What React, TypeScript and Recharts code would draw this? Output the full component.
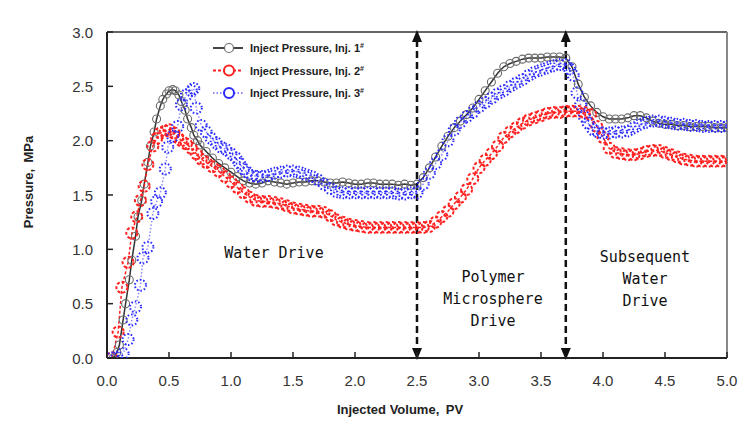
import React from 'react';
import { LineChart, Line, XAxis, YAxis, ReferenceLine } from 'recharts';

const xTicks = [0, 0.5, 1, 1.5, 2, 2.5, 3, 3.5, 4, 4.5, 5];
const yTicks = [0, 0.5, 1, 1.5, 2, 2.5, 3];
const phaseBounds = [2.5, 3.7];

const seriesNames = ['Inject Pressure, Inj. 1', 'Inject Pressure, Inj. 2', 'Inject Pressure, Inj. 3'];

const inj1: [number, number][] = [
  [0.05, 0], [0.08, 0.05], [0.1, 0.12], [0.13, 0.35], [0.15, 0.5], [0.18, 0.72], [0.2, 0.9], [0.23, 1.12], [0.25, 1.3],
  [0.28, 1.45], [0.3, 1.6], [0.33, 1.8], [0.35, 1.95], [0.38, 2.08], [0.4, 2.2], [0.43, 2.32], [0.45, 2.38], [0.48, 2.43],
  [0.5, 2.46], [0.53, 2.47], [0.55, 2.46], [0.58, 2.42], [0.6, 2.36], [0.63, 2.28], [0.65, 2.2], [0.68, 2.12], [0.7, 2.05],
  [0.73, 2.0], [0.75, 1.96], [0.8, 1.9], [0.85, 1.84], [0.9, 1.79], [0.95, 1.75], [1.0, 1.71], [1.05, 1.67], [1.1, 1.63],
  [1.15, 1.61], [1.2, 1.6], [1.25, 1.61], [1.3, 1.63], [1.35, 1.62], [1.4, 1.61], [1.45, 1.6], [1.5, 1.61], [1.55, 1.62],
  [1.6, 1.62], [1.65, 1.63], [1.7, 1.63], [1.75, 1.62], [1.8, 1.61], [1.85, 1.61], [1.9, 1.62], [1.95, 1.61], [2.0, 1.6],
  [2.05, 1.6], [2.1, 1.61], [2.15, 1.61], [2.2, 1.6], [2.25, 1.6], [2.3, 1.6], [2.35, 1.59], [2.4, 1.6], [2.45, 1.59],
  [2.5, 1.6], [2.55, 1.66], [2.6, 1.75], [2.65, 1.85], [2.7, 1.95], [2.75, 2.04], [2.8, 2.12], [2.85, 2.18], [2.9, 2.24],
  [2.95, 2.3], [3.0, 2.38], [3.05, 2.46], [3.1, 2.54], [3.15, 2.62], [3.2, 2.68], [3.25, 2.71], [3.3, 2.73], [3.35, 2.75],
  [3.4, 2.76], [3.45, 2.76], [3.5, 2.76], [3.55, 2.77], [3.6, 2.77], [3.65, 2.77], [3.7, 2.76], [3.75, 2.68], [3.8, 2.52],
  [3.85, 2.4], [3.9, 2.32], [3.95, 2.26], [4.0, 2.22], [4.05, 2.2], [4.1, 2.2], [4.15, 2.2], [4.2, 2.21], [4.25, 2.23],
  [4.3, 2.23], [4.35, 2.21], [4.4, 2.18], [4.45, 2.16], [4.5, 2.15], [4.55, 2.15], [4.6, 2.14], [4.65, 2.14], [4.7, 2.13],
  [4.75, 2.13], [4.8, 2.13], [4.85, 2.13], [4.9, 2.12], [4.95, 2.12], [5.0, 2.12],
];

const inj2: [number, number][] = [
  [0.04, 0], [0.09, 0.24], [0.12, 0.65], [0.17, 0.88], [0.2, 1.15], [0.24, 1.3], [0.27, 1.45], [0.3, 1.58], [0.33, 1.78],
  [0.37, 1.95], [0.4, 2.02], [0.43, 2.07], [0.47, 2.09], [0.5, 2.1], [0.54, 2.07], [0.57, 2.03], [0.6, 2.0], [0.64, 1.97],
  [0.68, 1.93], [0.72, 1.88], [0.76, 1.83], [0.8, 1.8], [0.85, 1.76], [0.9, 1.72], [0.95, 1.67], [1.0, 1.62], [1.05, 1.57],
  [1.1, 1.52], [1.15, 1.48], [1.2, 1.45], [1.25, 1.44], [1.3, 1.44], [1.35, 1.43], [1.4, 1.42], [1.45, 1.4], [1.5, 1.38],
  [1.55, 1.37], [1.6, 1.36], [1.65, 1.35], [1.7, 1.35], [1.75, 1.34], [1.8, 1.31], [1.85, 1.27], [1.9, 1.25], [1.95, 1.23],
  [2.0, 1.22], [2.05, 1.21], [2.1, 1.2], [2.15, 1.2], [2.2, 1.2], [2.25, 1.2], [2.3, 1.2], [2.35, 1.2], [2.4, 1.2],
  [2.45, 1.2], [2.5, 1.2], [2.55, 1.2], [2.6, 1.21], [2.65, 1.25], [2.7, 1.3], [2.75, 1.35], [2.8, 1.42], [2.85, 1.48],
  [2.9, 1.55], [2.95, 1.65], [3.0, 1.75], [3.05, 1.82], [3.1, 1.88], [3.15, 1.95], [3.2, 2.03], [3.25, 2.08], [3.3, 2.12],
  [3.35, 2.16], [3.4, 2.19], [3.45, 2.21], [3.5, 2.23], [3.55, 2.25], [3.6, 2.26], [3.65, 2.26], [3.7, 2.27], [3.75, 2.27],
  [3.8, 2.27], [3.85, 2.26], [3.9, 2.24], [3.95, 2.13], [4.0, 2.03], [4.05, 1.93], [4.1, 1.89], [4.15, 1.88], [4.2, 1.87],
  [4.25, 1.87], [4.3, 1.88], [4.35, 1.9], [4.4, 1.91], [4.45, 1.91], [4.5, 1.89], [4.55, 1.87], [4.6, 1.85], [4.65, 1.83],
  [4.7, 1.82], [4.75, 1.81], [4.8, 1.81], [4.85, 1.81], [4.9, 1.81], [4.95, 1.81], [5.0, 1.81],
];

const inj3: [number, number][] = [
  [0.04, 0], [0.08, 0.01], [0.13, 0.04], [0.17, 0.17], [0.2, 0.35], [0.23, 0.47], [0.27, 0.67], [0.29, 0.92], [0.33, 1.02],
  [0.37, 1.33], [0.4, 1.44], [0.43, 1.52], [0.47, 1.74], [0.49, 1.94], [0.53, 2.04], [0.57, 2.13], [0.6, 2.33], [0.64, 2.42],
  [0.68, 2.46], [0.7, 2.48], [0.72, 2.3], [0.76, 2.14], [0.8, 2.08], [0.84, 2.02], [0.88, 1.98], [0.92, 1.94], [0.96, 1.92],
  [1.0, 1.88], [1.04, 1.84], [1.07, 1.79], [1.1, 1.74], [1.13, 1.71], [1.17, 1.68], [1.21, 1.67], [1.25, 1.67], [1.3, 1.68],
  [1.35, 1.7], [1.4, 1.71], [1.45, 1.72], [1.5, 1.72], [1.55, 1.71], [1.6, 1.69], [1.65, 1.67], [1.7, 1.64], [1.75, 1.6],
  [1.8, 1.56], [1.85, 1.53], [1.9, 1.52], [1.95, 1.52], [2.0, 1.52], [2.05, 1.52], [2.1, 1.52], [2.15, 1.52], [2.2, 1.52],
  [2.25, 1.52], [2.3, 1.52], [2.35, 1.51], [2.4, 1.51], [2.45, 1.52], [2.5, 1.52], [2.55, 1.6], [2.6, 1.7], [2.65, 1.79],
  [2.7, 1.87], [2.75, 2.0], [2.8, 2.1], [2.85, 2.17], [2.9, 2.22], [2.95, 2.26], [3.0, 2.31], [3.05, 2.35], [3.1, 2.39],
  [3.15, 2.43], [3.2, 2.46], [3.25, 2.5], [3.3, 2.53], [3.35, 2.56], [3.4, 2.6], [3.45, 2.63], [3.5, 2.65], [3.55, 2.67],
  [3.6, 2.69], [3.65, 2.7], [3.7, 2.7], [3.73, 2.66], [3.76, 2.6], [3.79, 2.44], [3.82, 2.33], [3.85, 2.22], [3.88, 2.16],
  [3.92, 2.1], [3.96, 2.08], [4.0, 2.07], [4.05, 2.07], [4.1, 2.08], [4.15, 2.08], [4.2, 2.09], [4.25, 2.12], [4.3, 2.15],
  [4.35, 2.17], [4.4, 2.18], [4.45, 2.18], [4.5, 2.17], [4.55, 2.16], [4.6, 2.15], [4.65, 2.15], [4.7, 2.14], [4.75, 2.14],
  [4.8, 2.13], [4.85, 2.13], [4.9, 2.13], [4.95, 2.13], [5.0, 2.13],
];

const toRows = (pts: [number, number][]) => pts.map(([x, y]) => ({ x, y }));

const W = 747;
const H = 429;
const FONT = '"Liberation Sans", Arial, sans-serif';
const MONO = '"DejaVu Sans Mono", "Liberation Mono", monospace';

const C1 = '#6b6b6b';
const C2 = '#ff2020';
const C3 = '#2a2aff';

const XTick = (props: any) => {
  const { x, y, payload } = props;
  return (
    <g>
      <line x1={x} x2={x} y1={y} y2={y - 6} stroke="#222" strokeWidth={1.5} />
      <text x={x} y={y + 28} textAnchor="middle" fontSize={15} fill="#333" fontFamily={FONT}>
        {Number(payload.value).toFixed(1)}
      </text>
    </g>
  );
};

const YTick = (props: any) => {
  const { x, y, payload } = props;
  return (
    <g>
      <line x1={x} x2={x + 6} y1={y} y2={y} stroke="#222" strokeWidth={1.5} />
      <text x={x - 14} y={y + 5.5} textAnchor="end" fontSize={15} fill="#333" fontFamily={FONT}>
        {Number(payload.value).toFixed(1)}
      </text>
    </g>
  );
};

const ArrowLine = (props: any) => {
  const { x1, y1, y2 } = props;
  const top = Math.min(y1, y2) - 2;
  const bot = Math.max(y1, y2) + 2;
  return (
    <g>
      <line x1={x1} x2={x1} y1={top + 10} y2={bot - 10} stroke="#111" strokeWidth={2.5} strokeDasharray="7 4" />
      <polygon points={`${x1},${top} ${x1 - 5},${top + 12} ${x1 + 5},${top + 12}`} fill="#111" />
      <polygon points={`${x1},${bot} ${x1 - 5},${bot - 12} ${x1 + 5},${bot - 12}`} fill="#111" />
    </g>
  );
};

const legendItems = [
  { name: seriesNames[0], color: C1, line: '#444', dash: undefined as string | undefined, r: 4.5, sw: 1.2 },
  { name: seriesNames[1], color: C2, line: C2, dash: '3 2', r: 5, sw: 2 },
  { name: seriesNames[2], color: C3, line: '#8a8aff', dash: '1.5 2', r: 5, sw: 2 },
];

export default function App() {
  return (
    <div style={{ position: 'absolute', left: 0, top: 0, width: W, height: H, background: '#fff' }}>
      <LineChart width={W} height={H} margin={{ top: 32, right: 20, bottom: 41, left: 47 }}>
        <XAxis
          dataKey="x"
          type="number"
          domain={[0, 5]}
          ticks={xTicks}
          height={30}
          tickSize={0}
          tickMargin={0}
          tick={<XTick />}
          axisLine={{ stroke: '#222', strokeWidth: 2 }}
          allowDataOverflow
        />
        <YAxis
          type="number"
          domain={[0, 3]}
          ticks={yTicks}
          width={60}
          tickSize={0}
          tickMargin={0}
          tick={<YTick />}
          axisLine={{ stroke: '#222', strokeWidth: 2 }}
          allowDataOverflow
        />
        <ReferenceLine y={3} stroke="#333" strokeWidth={1.5} />
        <ReferenceLine x={5} stroke="#888" strokeWidth={2} />
        <Line
          data={toRows(inj1)}
          dataKey="y"
          type="linear"
          stroke="#333"
          strokeWidth={1.5}
          dot={{ r: 4, stroke: C1, strokeWidth: 1.1, fill: 'none' }}
          isAnimationActive={false}
        />
        <Line
          data={toRows(inj2)}
          dataKey="y"
          type="linear"
          stroke={C2}
          strokeWidth={1.5}
          strokeDasharray="3 2"
          dot={{ r: 5.5, stroke: C2, strokeWidth: 2, fill: 'none' }}
          isAnimationActive={false}
        />
        <Line
          data={toRows(inj3)}
          dataKey="y"
          type="linear"
          stroke="#8a8aff"
          strokeWidth={1.5}
          strokeDasharray="1.5 2"
          dot={{ r: 5.5, stroke: C3, strokeWidth: 2, fill: 'none' }}
          isAnimationActive={false}
        />
        {phaseBounds.map((b) => (
          <ReferenceLine key={b} x={b} stroke="#111" shape={(p: any) => <ArrowLine {...p} />} />
        ))}
      </LineChart>
      <svg width={W} height={H} style={{ position: 'absolute', left: 0, top: 0, pointerEvents: 'none' }}>
        {legendItems.map((it, i) => {
          const cy = 48 + i * 22.5;
          return (
            <g key={it.name}>
              <line x1={213} x2={243} y1={cy} y2={cy} stroke={it.line} strokeWidth={2} strokeDasharray={it.dash} />
              <circle cx={229} cy={cy} r={it.r} stroke={it.color} strokeWidth={it.sw} fill="#fff" />
              <text x={250} y={cy + 4} fontSize={11} fontWeight="bold" fill="#222" fontFamily={FONT}>
                {it.name}
                <tspan fontSize={7} dy={-4}>#</tspan>
              </text>
            </g>
          );
        })}
        <text x={30} y={182} transform="rotate(-90 30 182)" textAnchor="middle" dominantBaseline="middle" fontSize={13} fontWeight="bold" fill="#222" fontFamily={FONT}>
          {'Pressure,\u2002MPa'}
        </text>
        <text x={400} y={414} textAnchor="middle" fontSize={13} fontWeight="bold" fill="#222" fontFamily={FONT}>
          {'Injected Volume,\u2002PV'}
        </text>
        <g fontFamily={MONO} fontSize={15} fill="#111" textAnchor="middle">
          <text x={274} y={258}>Water Drive</text>
          <text x={493} y={282}>Polymer</text>
          <text x={493} y={304}>Microsphere</text>
          <text x={493} y={326}>Drive</text>
          <text x={645} y={262}>Subsequent</text>
          <text x={645} y={284}>Water</text>
          <text x={645} y={306}>Drive</text>
        </g>
      </svg>
    </div>
  );
}
